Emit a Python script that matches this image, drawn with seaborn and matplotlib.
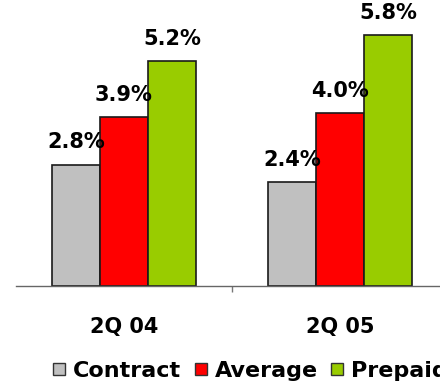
import matplotlib
matplotlib.use("Agg")
import matplotlib.pyplot as plt
from matplotlib.lines import Line2D
import pandas as pd
import seaborn as sns

# Churn rate by customer segment, per quarter
quarters = ["2Q 04", "2Q 05"]
segments = ["Contract", "Average", "Prepaid"]
contract = [2.8, 2.4]
average = [3.9, 4.0]
prepaid = [5.2, 5.8]

colors = {"Contract": "#C0C0C0", "Average": "#FF0000", "Prepaid": "#99CC00"}

df = pd.DataFrame({
    "quarter": quarters * 3,
    "segment": [s for s in segments for _ in quarters],
    "value": contract + average + prepaid,
})

sns.set_style("white")
plt.rcParams["font.family"] = ["DejaVu Sans"]
plt.rcParams["font.weight"] = "bold"
plt.rcParams["text.color"] = "black"

fig = plt.figure(figsize=(4.4, 3.83), dpi=100)
ax = fig.add_axes([16 / 440, 97 / 383, 432 / 440, 281 / 383])

sns.barplot(
    data=df, x="quarter", y="value", hue="segment",
    order=quarters, hue_order=segments, palette=colors, saturation=1,
    width=0.67, edgecolor="#1a1a1a", linewidth=1.2,
    legend=False, ax=ax,
)

for cont, seg in zip(ax.containers, segments):
    vals = df[df["segment"] == seg].set_index("quarter").loc[quarters, "value"]
    ax.bar_label(cont, labels=[f"{v:.1f}%" for v in vals], padding=9,
                 fontsize=15, fontweight="bold", color="black")

ax.set_xlim(-0.5, 1.5)
ax.set_ylim(0, 6.5)
ax.set_xlabel("")
ax.set_ylabel("")
ax.set_yticks([])

for side in ("left", "top", "right"):
    ax.spines[side].set_visible(False)
ax.spines["bottom"].set_color("#666666")
ax.spines["bottom"].set_linewidth(1.0)

ax.set_xticks([0, 1])
ax.set_xticklabels(quarters, fontsize=15, fontweight="bold", color="black")
ax.set_xticks([0.5], minor=True)
ax.tick_params(axis="x", which="major", length=0, pad=22)
ax.tick_params(axis="x", which="minor", length=4.5, width=1.0,
               color="#777777", direction="out", bottom=True)

handles = [
    Line2D([], [], linestyle="none", marker="s", markersize=8,
           markerfacecolor=colors[s], markeredgecolor="#333333",
           markeredgewidth=1.0)
    for s in segments
]
fig.legend(handles, segments, loc="center left",
           bbox_to_anchor=(52 / 440, 12 / 383), ncol=3, frameon=False,
           prop={"size": 16, "weight": "bold"}, labelcolor="black",
           handlelength=0.65, handletextpad=0.3, columnspacing=0.55,
           borderpad=0, borderaxespad=0)

fig.savefig("out.png", dpi=100)
